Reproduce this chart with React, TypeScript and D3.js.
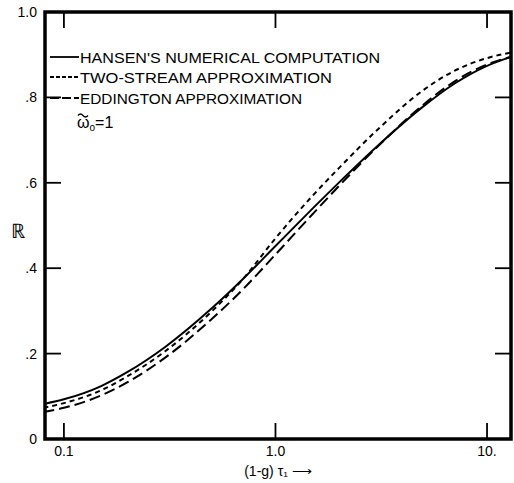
import { useRef, useEffect } from 'react'
import * as d3 from 'd3'

// optical depth samples (1-g)tau1 and reflectance R
const tau = [0.08, 0.1, 0.15, 0.2, 0.3, 0.5, 0.7, 1.0, 1.5, 2.0, 3.0, 5.0, 7.0, 10, 13]
const hansen = [0.082, 0.093, 0.124, 0.157, 0.215, 0.306, 0.374, 0.452, 0.540, 0.601, 0.684, 0.779, 0.832, 0.874, 0.895]
const twoStream = [0.073, 0.084, 0.114, 0.147, 0.205, 0.299, 0.374, 0.470, 0.570, 0.635, 0.722, 0.817, 0.862, 0.892, 0.905]
const eddington = [0.063, 0.073, 0.102, 0.133, 0.190, 0.281, 0.350, 0.432, 0.527, 0.593, 0.682, 0.783, 0.837, 0.877, 0.895]

const xTicks = [0.1, 1, 10]
const xTickLabels = ['0.1', '1.0', '10.']
const yTicks = [0, 0.2, 0.4, 0.6, 0.8, 1.0]
const yTickLabels = ['0', '.2', '.4', '.6', '.8', '1.0']
const legendLabels = ["HANSEN'S NUMERICAL COMPUTATION", 'TWO-STREAM APPROXIMATION', 'EDDINGTON APPROXIMATION']

const App = () => {
  const svgRef = useRef<SVGSVGElement>(null)

  useEffect(() => {
    if (!svgRef.current) return
    const svg = d3.select(svgRef.current)
    svg.selectAll('*').remove()

    const W = 514
    const H = 483
    const left = 45, right = 511, top = 12, bottom = 439
    svg.attr('width', W).attr('height', H)

    const x = d3.scaleLog().domain([0.0814, 12.98]).range([left, right])
    const y = d3.scaleLinear().domain([0, 1]).range([bottom, top])

    const font = "'Liberation Sans', Arial, sans-serif"

    svg.append('rect').attr('width', W).attr('height', H).attr('fill', '#fff')

    const series = [
      { vals: hansen, dash: null, w: 2 },
      { vals: twoStream, dash: '5,4', w: 2 },
      { vals: eddington, dash: '11,5', w: 2 },
    ]

    const line = d3.line<number>()
      .x((_, i) => x(tau[i]))
      .y(d => y(d))
      .curve(d3.curveMonotoneX)

    svg.append('clipPath').attr('id', 'plotClip')
      .append('rect').attr('x', left).attr('y', top).attr('width', right - left).attr('height', bottom - top)

    const g = svg.append('g').attr('clip-path', 'url(#plotClip)')
    series.forEach(s => {
      g.append('path')
        .attr('d', line(s.vals) as string)
        .attr('fill', 'none')
        .attr('stroke', '#000')
        .attr('stroke-width', s.w)
        .attr('stroke-dasharray', s.dash)
    })

    // frame
    svg.append('rect')
      .attr('x', left).attr('y', top).attr('width', right - left).attr('height', bottom - top)
      .attr('fill', 'none').attr('stroke', '#000').attr('stroke-width', 3.5)

    // ticks
    const tl = 16
    xTicks.forEach(t => {
      svg.append('line').attr('x1', x(t)).attr('x2', x(t)).attr('y1', top).attr('y2', top + tl)
        .attr('stroke', '#000').attr('stroke-width', 1.8)
      svg.append('line').attr('x1', x(t)).attr('x2', x(t)).attr('y1', bottom).attr('y2', bottom - tl)
        .attr('stroke', '#000').attr('stroke-width', 1.8)
    })
    yTicks.slice(1, -1).forEach(t => {
      svg.append('line').attr('x1', left).attr('x2', left + tl).attr('y1', y(t)).attr('y2', y(t))
        .attr('stroke', '#000').attr('stroke-width', 1.8)
      svg.append('line').attr('x1', right).attr('x2', right - tl).attr('y1', y(t)).attr('y2', y(t))
        .attr('stroke', '#000').attr('stroke-width', 1.8)
    })

    // tick labels
    yTicks.forEach((t, i) => {
      svg.append('text')
        .attr('x', left - 8).attr('y', y(t) + 5)
        .attr('text-anchor', 'end')
        .attr('font-family', font).attr('font-size', 14)
        .text(yTickLabels[i])
    })
    xTicks.forEach((t, i) => {
      svg.append('text')
        .attr('x', x(t)).attr('y', bottom + 17)
        .attr('text-anchor', 'middle')
        .attr('font-family', font).attr('font-size', 14)
        .text(xTickLabels[i])
    })

    // axis titles
    svg.append('text')
      .attr('x', 278).attr('y', 476)
      .attr('text-anchor', 'middle')
      .attr('font-family', font).attr('font-size', 14)
      .text('(1-g) τ₁ ⟶')
    svg.append('text')
      .attr('x', 18).attr('y', 238)
      .attr('text-anchor', 'middle')
      .attr('font-family', font).attr('font-size', 20)
      .text('ℝ')

    // legend
    const legY = [63, 83, 104]
    const legEnd = [380, 332, 302]
    legendLabels.forEach((lab, i) => {
      svg.append('line')
        .attr('x1', 50).attr('x2', 79).attr('y1', legY[i] - 6).attr('y2', legY[i] - 6)
        .attr('stroke', '#000').attr('stroke-width', 1.8)
        .attr('stroke-dasharray', i === 1 ? '4,2' : i === 2 ? '9,3' : null)
      svg.append('text')
        .attr('x', 80).attr('y', legY[i])
        .attr('font-family', font).attr('font-size', 15)
        .attr('textLength', legEnd[i] - 80)
        .attr('lengthAdjust', 'spacingAndGlyphs')
        .text(lab)
    })
    // single scattering albedo label: omega with tilde, subscript o
    svg.append('path')
      .attr('d', 'M78,115.5 q2.5,-3 5,0 t5,0')
      .attr('fill', 'none').attr('stroke', '#000').attr('stroke-width', 1.3)
    const om = svg.append('text')
      .attr('x', 77).attr('y', 128)
      .attr('font-family', font).attr('font-size', 16)
    om.append('tspan').text('ω')
    om.append('tspan').attr('font-size', 10).attr('dy', 3).text('o')
    om.append('tspan').attr('dy', -3).text('=1')
  }, [])

  return <svg ref={svgRef} style={{ position: 'absolute', left: 0, top: 0 }} />
}

export default App
